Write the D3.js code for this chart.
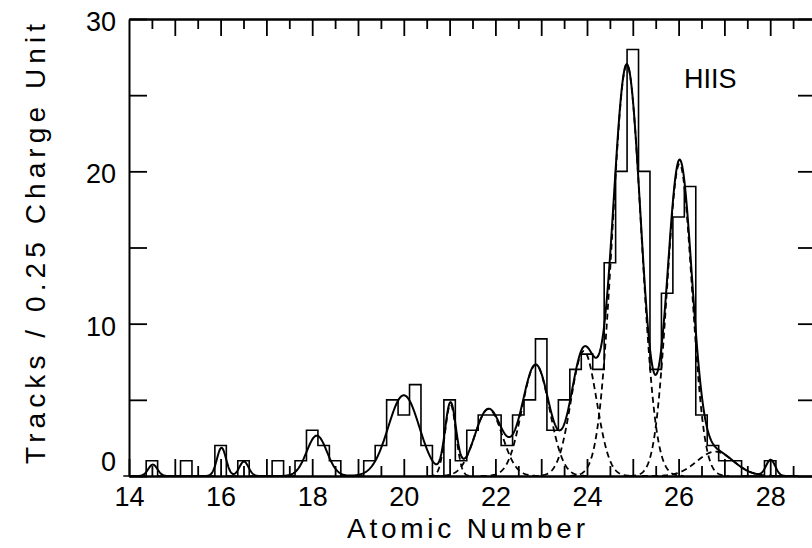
<!DOCTYPE html>
<html><head><meta charset="utf-8">
<script src="https://cdn.jsdelivr.net/npm/d3@7/dist/d3.min.js"></script>
<style>
html,body{margin:0;padding:0;background:#fff;}
svg{display:block;}
text{font-family:"Liberation Sans",Arial,Helvetica,sans-serif;fill:#000;}
</style></head><body>
<svg id="chart" width="812" height="548"></svg>
<script>
// ---- data ----
const binCenters = [14.0,14.25,14.5,14.75,15.0,15.25,15.5,15.75,16.0,16.25,16.5,16.75,17.0,17.25,17.5,17.75,
  18.0,18.25,18.5,18.75,19.0,19.25,19.5,19.75,20.0,20.25,20.5,20.75,21.0,21.25,21.5,21.75,
  22.0,22.25,22.5,22.75,23.0,23.25,23.5,23.75,24.0,24.25,24.5,24.75,25.0,25.25,25.5,25.75,
  26.0,26.25,26.5,26.75,27.0,27.25,27.5,27.75,28.0,28.25,28.5];
const binCounts = [0,0,1,0,0,1,0,0,2,0,1,0,0,1,0,1,
  3,2,1,0,0,1,2,5,4,6,2,0,5,1,3,4,
  4,2,4,5,9,3,5,7,8,7,14,20,28,20,7,12,
  17,19,4,2,1,1,0,0,1,0,0];
const binWidth = 0.25;

// Gaussian fit components (centre, amplitude, sigma)
const fitCenters = [14.52,16.02,16.51,18.1,20.0,21.02,21.85,22.88,23.93,24.87,26.02,26.8,28.01];
const fitAmps    = [0.75, 1.85, 0.95, 2.65,5.3, 4.7,  4.4,  7.3,  8.2,  27.0, 20.5, 1.6, 1.05];
const fitSigmas  = [0.1,  0.1,  0.1,  0.22,0.34,0.12, 0.3,  0.3,  0.28, 0.31, 0.27, 0.4, 0.1];
const dashedComponents = [5,6,7,8,9,10,11];

const xMajorTicks = [15,16,17,18,19,20,21,22,23,24,25,26,27,28];
const xMinorTicks = [14.5,15.5,16.5,17.5,18.5,19.5,20.5,21.5,22.5,23.5,24.5,25.5,26.5,27.5,28.5];
const xTickLabels = [14,16,18,20,22,24,26,28];
const yTicks = [0,5,10,15,20,25,30];
const yTickLabels = [0,10,20,30];

// ---- scales ----
const svg = d3.select("#chart");
const x = d3.scaleLinear().domain([14, 29]).range([129, 816]);
const y = d3.scaleLinear().domain([0, 30]).range([476, 19]);

// ---- histogram (step outline) ----
const histPts = [[binCenters[0]-binWidth/2, 0]];
binCenters.forEach((c,i)=>{
  histPts.push([c-binWidth/2, binCounts[i]]);
  histPts.push([c+binWidth/2, binCounts[i]]);
});
histPts.push([binCenters[binCenters.length-1]+binWidth/2, 0]);
const line = d3.line().x(d=>x(d[0])).y(d=>y(d[1]));
svg.append("path").attr("d", line(histPts))
  .attr("fill","none").attr("stroke","#000").attr("stroke-width",1.6);

// ---- fits ----
const gauss = (i, z) => fitAmps[i]*Math.exp(-0.5*Math.pow((z-fitCenters[i])/fitSigmas[i],2));
dashedComponents.forEach(i=>{
  const pts = [];
  const lo = fitCenters[i]-4*fitSigmas[i], hi = fitCenters[i]+4*fitSigmas[i];
  for(let z=lo; z<=hi+1e-9; z+=0.01) pts.push([z, gauss(i,z)]);
  svg.append("path").attr("d", line(pts))
    .attr("fill","none").attr("stroke","#000").attr("stroke-width",1.8)
    .attr("stroke-dasharray","6,4");
});
const sumPts = [];
for(let z=14.0; z<=28.6; z+=0.01){
  let s=0; for(let i=0;i<fitCenters.length;i++) s+=gauss(i,z);
  sumPts.push([z,s]);
}
svg.append("path").attr("d", line(sumPts))
  .attr("fill","none").attr("stroke","#000").attr("stroke-width",2);

// ---- axes ----
function styleAxis(g){
  g.selectAll(".domain").attr("stroke","#000").attr("stroke-width",2);
  g.selectAll(".tick line").attr("stroke","#000").attr("stroke-width",1.8);
  g.selectAll(".tick text").attr("font-size",27).attr("font-family",'"Liberation Sans",Arial,sans-serif').attr("fill","#000");
}
// top
svg.append("g").attr("transform",`translate(0,${y(30)})`)
  .call(d3.axisTop(x).tickValues(xMinorTicks).tickSize(-10).tickSizeOuter(0).tickFormat("")).call(styleAxis);
svg.append("g").attr("transform",`translate(0,${y(30)})`)
  .call(d3.axisTop(x).tickValues(xMajorTicks).tickSize(-17).tickSizeOuter(0).tickFormat("")).call(styleAxis);
// bottom
svg.append("g").attr("transform",`translate(0,${y(0)})`)
  .call(d3.axisBottom(x).tickValues(xMinorTicks).tickSize(-10).tickSizeOuter(0).tickFormat("")).call(styleAxis);
svg.append("g").attr("transform",`translate(0,${y(0)})`)
  .call(d3.axisBottom(x).tickValues([14].concat(xMajorTicks)).tickSize(-17).tickSizeOuter(0).tickPadding(11)
    .tickFormat(d=> xTickLabels.includes(d) ? String(d) : "")).call(styleAxis);
// left
const gl = svg.append("g").attr("transform",`translate(${x(14)},0)`)
  .call(d3.axisLeft(y).tickValues(yTicks).tickSize(-18).tickSizeOuter(0).tickPadding(13)
    .tickFormat(d=> yTickLabels.includes(d) ? String(d) : "")).call(styleAxis);
gl.selectAll(".tick text").attr("dy", d => d===0 ? "-0.2em" : "0.42em");
// right
svg.append("g").attr("transform",`translate(${x(29)},0)`)
  .call(d3.axisRight(y).tickValues(yTicks).tickSize(-18).tickSizeOuter(0).tickFormat("")).call(styleAxis);

// ---- titles ----
svg.append("text").attr("x",466).attr("y",538).attr("text-anchor","middle")
  .attr("font-size",28).attr("textLength",238).attr("lengthAdjust","spacing").text("Atomic Number");
svg.append("text").attr("transform","translate(45,244) rotate(-90)").attr("text-anchor","middle")
  .attr("font-size",28).attr("textLength",440).attr("lengthAdjust","spacing").text("Tracks / 0.25 Charge Unit");
svg.append("text").attr("x",684).attr("y",88).attr("font-size",27).text("HIIS");
</script>
</body></html>
